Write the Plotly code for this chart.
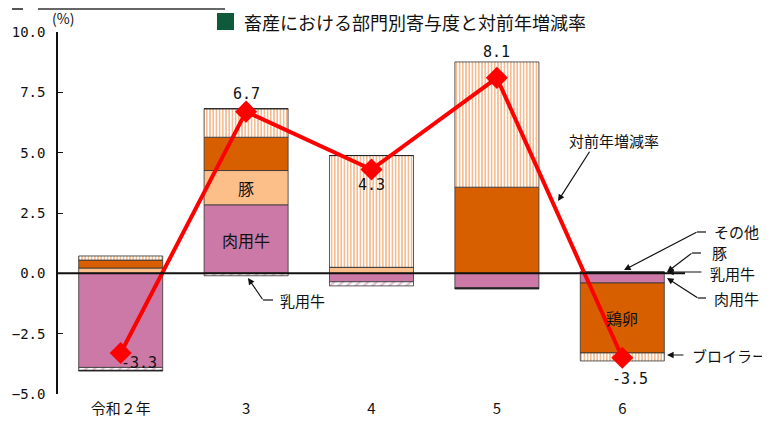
import plotly.graph_objects as go

categories = ["令和２年", "3", "4", "5", "6"]
beef = [-3.90, 2.84, -0.35, -0.60, -0.40]      # 肉用牛
dairy = [-0.12, -0.10, -0.17, 0.0, 0.0]        # 乳用牛
pork = [0.22, 1.42, 0.25, 0.0, 0.0]            # 豚
eggs = [0.33, 1.38, 0.0, 3.57, -2.90]          # 鶏卵
broiler = [0.17, 1.18, 4.63, 5.19, -0.33]      # ブロイラー
other = [-0.03, 0.0, 0.0, -0.05, 0.07]         # その他
total = [-3.3, 6.7, 4.3, 8.1, -3.5]            # 対前年増減率
total_labels = ["-3.3", "6.7", "4.3", "8.1", "-3.5"]
yticks = [-5.0, -2.5, 0.0, 2.5, 5.0, 7.5, 10.0]

JP = "Noto Sans CJK JP"
MONO = "DejaVu Sans Mono"

# screen coordinates of the plot area (page body has an 8px margin)
OFF = 8
L, R, T, B = 58, 685, 32, 394
W, H = 770 - OFF, 426 - OFF


def px(xp):
    return (xp - L) / (R - L)


def py(yp):
    return (B - yp) / (B - T)


line_style = dict(color="#333333", width=0.8)
fig = go.Figure()
fig.add_bar(x=categories, y=beef, name="肉用牛", marker=dict(color="#CC79A7", line=line_style))
fig.add_bar(x=categories, y=dairy, name="乳用牛",
            marker=dict(color="white", line=line_style,
                        pattern=dict(shape="/", fgcolor="#CC79A7", bgcolor="white", size=6, solidity=0.4)))
fig.add_bar(x=categories, y=pork, name="豚", marker=dict(color="#FDBF8A", line=line_style))
fig.add_bar(x=categories, y=eggs, name="鶏卵", marker=dict(color="#D75F00", line=line_style))
fig.add_bar(x=categories, y=broiler, name="ブロイラー",
            marker=dict(color="white", line=line_style,
                        pattern=dict(shape="|", fgcolor="#EC7A26", bgcolor="white", size=3.2, solidity=0.5)))
fig.add_bar(x=categories, y=other, name="その他", marker=dict(color="#222222", line=dict(color="#222222", width=0.8)))
fig.add_scatter(x=categories, y=total, mode="lines+markers", name="対前年増減率",
                line=dict(color="#FF0000", width=4),
                marker=dict(symbol="diamond", size=17, color="#FF0000"))

# value labels for the total line (x given as category index)
shifts = [(18, -10), (0, 18), (0, -15), (0, 26), (8, -21)]
for i, (v, t, (dx, dy)) in enumerate(zip(total, total_labels, shifts)):
    fig.add_annotation(x=i, y=v, text=t, showarrow=False, xshift=dx, yshift=dy,
                       xanchor="center", yanchor="middle",
                       font=dict(family=MONO, size=15, color="#111111"))

# in-bar labels
fig.add_annotation(x=1, y=beef[1] / 2 - 0.05, text="肉用牛", showarrow=False,
                   xanchor="center", yanchor="middle",
                   font=dict(family=JP, size=16, color="#111111"))
fig.add_annotation(x=1, y=beef[1] + pork[1] / 2, text="豚", showarrow=False,
                   xanchor="center", yanchor="middle",
                   font=dict(family=JP, size=16, color="#111111"))
fig.add_annotation(x=4, y=beef[4] + eggs[4] / 2, text="鶏卵", showarrow=False,
                   xanchor="center", yanchor="middle",
                   font=dict(family=JP, size=16, color="#111111"))

# callouts: (text, text_center_px, elbow_segment or None, tail_px, head_px)
callouts = [
    ("対前年増減率", (614, 140), None, (590, 151), (558, 201)),
    ("その他", (736, 232), ((697, 232), (706, 232)), (697, 232), (624, 270)),
    ("豚", (719, 252), ((692, 253), (701, 253)), (692, 253), (667, 272)),
    ("乳用牛", (732, 273), None, (702, 272), (667, 272)),
    ("肉用牛", (736, 298), ((698, 298), (706, 298)), (698, 298), (667, 278)),
    ("ブロイラー", (729, 355), None, (684, 355), (667, 355)),
    ("乳用牛", (302, 300), ((263, 300), (273, 300)), (263, 300), (248, 278)),
]
shapes = []
for text, (tx, ty), seg, (ax_, ay_), (hx, hy) in callouts:
    fig.add_annotation(xref="paper", yref="paper", x=px(tx), y=py(ty), text=text,
                       xanchor="center", yanchor="middle", borderpad=0,
                       showarrow=False, font=dict(family=JP, size=15, color="#111111"))
    fig.add_annotation(xref="paper", yref="paper", x=px(hx), y=py(hy), text=" ",
                       font=dict(size=1), borderpad=0,
                       showarrow=True, axref="pixel", ayref="pixel",
                       ax=ax_ - hx, ay=ay_ - hy, arrowhead=2, arrowsize=1.1,
                       arrowwidth=1.2, arrowcolor="#111111", standoff=0)
    if seg:
        (x0, y0), (x1, y1) = seg
        shapes.append(dict(type="line", xref="paper", yref="paper",
                           x0=px(x0), y0=py(y0), x1=px(x1), y1=py(y1),
                           line=dict(color="#111111", width=1.2)))

# zero line
shapes.append(dict(type="line", xref="paper", yref="y", x0=0, x1=1, y0=0, y1=0,
                   line=dict(color="#111111", width=2), layer="above"))
# title legend square
shapes.append(dict(type="rect", xref="paper", yref="paper",
                   x0=px(217), x1=px(234), y0=py(30), y1=py(13),
                   fillcolor="#0F5A3A", line=dict(width=0)))
# top-left decorative bar
shapes.append(dict(type="rect", xref="paper", yref="paper",
                   x0=px(12), x1=px(23), y0=py(10), y1=py(8),
                   fillcolor="#555555", line=dict(width=0)))
shapes.append(dict(type="rect", xref="paper", yref="paper",
                   x0=px(38), x1=px(225), y0=py(10), y1=py(8),
                   fillcolor="#666666", line=dict(width=0)))

fig.add_annotation(xref="paper", yref="paper", x=px(242), y=py(22), xanchor="left",
                   yanchor="middle",
                   text="畜産における部門別寄与度と対前年増減率", showarrow=False,
                   font=dict(family=JP, size=18, color="#111111"))
fig.add_annotation(xref="paper", yref="paper", x=px(63), y=py(18),
                   xanchor="center", yanchor="middle",
                   text="(%)", showarrow=False,
                   font=dict(family=JP, size=14, color="#111111"))

fig.update_layout(
    width=W, height=H,
    margin=dict(l=L - OFF, r=770 - R, t=T - OFF, b=426 - B, pad=0, autoexpand=False),
    paper_bgcolor="white", plot_bgcolor="white",
    barmode="relative", bargap=0.33,
    showlegend=False,
    shapes=shapes,
    font=dict(family=JP, color="#111111"),
)
fig.update_yaxes(range=[-5, 10], tickvals=yticks, tickformat=".1f", automargin=False,
                 showgrid=False, zeroline=False, showline=True, linecolor="#111111",
                 linewidth=1.5, ticks="inside", ticklen=5, tickcolor="#111111",
                 ticklabelstandoff=8,
                 tickfont=dict(family=MONO, size=14, color="#111111"))
fig.update_xaxes(type="category", range=[-0.5, 4.5], automargin=False,
                 showgrid=False, zeroline=False, showline=False, ticks="",
                 ticklabelstandoff=4,
                 tickfont=dict(family=JP, size=15, color="#111111"))

fig.write_html("out.html")
